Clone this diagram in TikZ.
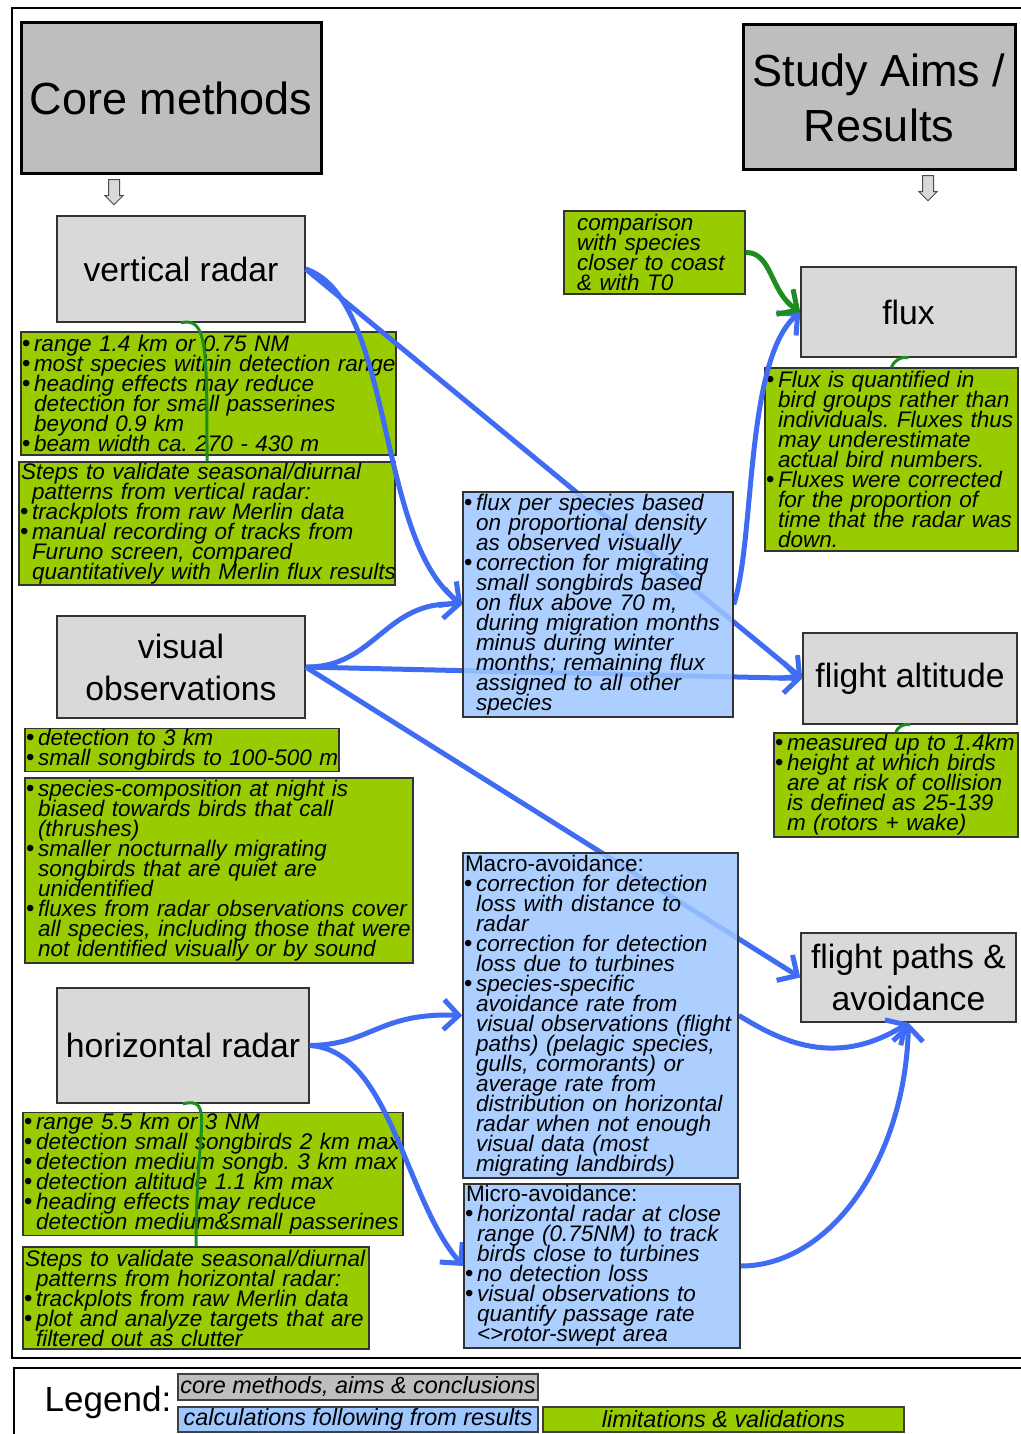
\documentclass[tikz,border=0pt]{standalone}
\usepackage{fontspec}
\setmainfont{Liberation Sans}
\usepackage{tikz}
\usetikzlibrary{shapes,arrows.meta}
\usepackage{xcolor}
\frenchspacing

\definecolor{headgray}{HTML}{BEBEBE}
\definecolor{methodgray}{HTML}{D9D9D9}
\definecolor{limgreen}{HTML}{99CC00}
\definecolor{calcblue}{HTML}{9EC7FF}
\definecolor{linkblue}{HTML}{3F6CF2}
\definecolor{notegreen}{HTML}{1E8C1E}

\pgfdeclarelayer{back}
\pgfdeclarelayer{front}
\pgfsetlayers{back,main,front}

\newcommand{\boxfont}{\fontsize{22.5}{20}\selectfont\itshape\lineskiplimit=-40pt\relax}
\newcommand{\bul}[1]{\makebox[11pt][l]{\upshape\fontsize{24}{24}\selectfont\hspace*{-1pt}\textbullet}\mbox{#1}}
\newcommand{\ind}[1]{\hspace*{11pt}\mbox{#1}}
\newcommand{\nob}[1]{\mbox{#1}}

\begin{document}
\begin{tikzpicture}[x=1pt,y=-1pt,
					headbox/.style={draw, line width=3pt, fill=headgray, font=\fontsize{45}{55}\selectfont, align=center},
					methodbox/.style={draw=black!80, line width=1.5pt, fill=methodgray, font=\fontsize{33.7}{42}\selectfont, align=center},
					limbox/.style={draw=black!80, line width=1.5pt, fill=limgreen, align=left, inner xsep=2pt, inner ysep=1pt, font=\boxfont},
					calcbox/.style={limbox, fill=calcblue, fill opacity=0.85, text opacity=1},
					legendbox/.style={draw=black!75, line width=1.2pt, inner sep=1pt, minimum width=360pt, font=\fontsize{23.4}{26}\selectfont\itshape},
					downarrow/.style={draw=black!70, fill=methodgray, line width=1pt, single arrow, shape border rotate=270, minimum height=25pt, minimum width=17pt, single arrow head extend=3.5pt, inner sep=5pt},
					link/.style={draw=linkblue, line width=5pt, -{Straight Barb[length=15pt,width=30pt]}},
					note/.style={draw=notegreen, line width=3pt},
					panel/.style={draw, line width=1.5pt}]
    \useasboundingbox (0,0) rectangle (1020,1434);
    \fill[white] (0,0) rectangle (1020,1434);
    \draw[panel] (12,8) rectangle (1030,1358);
    \draw[panel, line width=2pt] (14,1368) rectangle (1030,1440);

    % Place nodes
    \node [headbox, minimum width=300pt, minimum height=151pt] (core) at (171,98.5) {Core methods};
    \node [headbox, minimum width=272pt, minimum height=145pt] (aims) at (879,97.5) {Study Aims /\\Results};
    \node [downarrow] (coredown) at (114,189.5) {};
    \node [downarrow] (aimsdown) at (928,185.5) {};

    \node [methodbox, minimum width=248pt, minimum height=106pt] (vr) at (181,269) {vertical radar};
    \node [methodbox, minimum width=248pt, minimum height=102pt] (vis) at (181,667) {visual\\observations};
    \node [methodbox, minimum width=252pt, minimum height=115pt] (hr) at (183,1045.5) {horizontal radar};
    \node [methodbox, minimum width=215pt, minimum height=90pt] (flux) at (908.5,312) {flux};
    \node [methodbox, minimum width=214pt, minimum height=91pt] (alt) at (910,678.5) {flight altitude};
    \node [methodbox, minimum width=215pt, minimum height=89pt] (paths) at (908.5,977.5) {flight paths \&\\avoidance};

    \node [limbox, text width=371pt, minimum height=123pt] (vrlim) at (208.5,393.5){
    	\bul{range 1.4 km or 0.75 NM}\\
    	\bul{most species within detection range}\\
    	\bul{heading effects may reduce}\\
    	\ind{detection for small passerines}\\
    	\ind{beyond 0.9 km}\\
    	\bul{beam width ca. 270 - 430 m}
    };
    \node [limbox, text width=372pt, minimum height=123pt] (vrval) at (207,523.5){
    	\nob{Steps to validate seasonal/diurnal}\\
    	\ind{patterns from vertical radar:}\\
    	\bul{trackplots from raw Merlin data}\\
    	\bul{manual recording of tracks from}\\
    	\ind{Furuno screen, compared}\\
    	\ind{quantitatively with Merlin flux results}
    };
    \node [limbox, text width=310pt, minimum height=42pt] (vislim) at (182,750){
    	\bul{detection to 3 km}\\
    	\bul{small songbirds to 100-500 m}
    };
    \node [limbox, text width=384pt, minimum height=185pt] (visval) at (219,870.5){
    	\bul{species-composition at night is}\\
    	\ind{biased towards birds that call}\\
    	\ind{(thrushes)}\\
    	\bul{smaller nocturnally migrating}\\
    	\ind{songbirds that are quiet are}\\
    	\ind{unidentified}\\
    	\bul{fluxes from radar observations cover}\\
    	\ind{all species, including those that were}\\
    	\ind{not identified visually or by sound}
    };
    \node [limbox, text width=376pt, minimum height=122pt] (hrlim) at (213,1174){
    	\bul{range 5.5 km or 3 NM}\\
    	\bul{detection small songbirds 2 km max}\\
    	\bul{detection medium songb. 3 km max}\\
    	\bul{detection altitude 1.1 km max}\\
    	\bul{heading effects may reduce}\\
    	\ind{detection medium\&small passerines}
    };
    \node [limbox, text width=342pt, minimum height=102pt] (hrval) at (196,1298){
    	\nob{Steps to validate seasonal/diurnal}\\
    	\ind{patterns from horizontal radar:}\\
    	\bul{trackplots from raw Merlin data}\\
    	\bul{plot and analyze targets that are}\\
    	\ind{filtered out as clutter}
    };
    \node [limbox, text width=177pt, minimum height=83pt] (cmp) at (654.5,252.5){
    	\ind{comparison}\\
    	\ind{with species}\\
    	\ind{closer to coast}\\
    	\ind{\& with T0}
    };
    \node [limbox, text width=249pt, minimum height=183pt] (fluxlim) at (891.5,459.5){
    	\bul{Flux is quantified in}\\
    	\ind{bird groups rather than}\\
    	\ind{individuals. Fluxes thus}\\
    	\ind{may underestimate}\\
    	\ind{actual bird numbers.}\\
    	\bul{Fluxes were corrected}\\
    	\ind{for the proportion of}\\
    	\ind{time that the radar was}\\
    	\ind{down.}
    };
    \node [limbox, text width=240pt, minimum height=104pt] (altlim) at (896,785){
    	\bul{measured up to 1.4km}\\
    	\bul{height at which birds}\\
    	\ind{are at risk of collision}\\
    	\ind{is defined as 25-139}\\
    	\ind{m (rotors + wake)}
    };

    \begin{pgfonlayer}{front}
    \node [calcbox, text width=266pt, minimum height=225pt] (spec) at (598,604.5){
    	\bul{flux per species based}\\
    	\ind{on proportional density}\\
    	\ind{as observed visually}\\
    	\bul{correction for migrating}\\
    	\ind{small songbirds based}\\
    	\ind{on flux above 70 m,}\\
    	\ind{during migration months}\\
    	\ind{minus during winter}\\
    	\ind{months; remaining flux}\\
    	\ind{assigned to all other}\\
    	\ind{species}
    };
    \node [calcbox, text width=271pt, minimum height=325pt] (macro) at (600.5,1015.5){
    	\nob{\upshape Macro-avoidance:}\\
    	\bul{correction for detection}\\
    	\ind{loss with distance to}\\
    	\ind{radar}\\
    	\bul{correction for detection}\\
    	\ind{loss due to turbines}\\
    	\bul{species-specific}\\
    	\ind{avoidance rate from}\\
    	\ind{visual observations (flight}\\
    	\ind{paths) (pelagic species,}\\
    	\ind{gulls, cormorants) or}\\
    	\ind{average rate from}\\
    	\ind{distribution on horizontal}\\
    	\ind{radar when not enough}\\
    	\ind{visual data (most}\\
    	\ind{migrating landbirds)}
    };
    \node [calcbox, text width=272pt, minimum height=164pt] (micro) at (602,1266){
    	\nob{\upshape Micro-avoidance:}\\
    	\bul{horizontal radar at close}\\
    	\ind{range (0.75NM) to track}\\
    	\ind{birds close to turbines}\\
    	\bul{no detection loss}\\
    	\bul{visual observations to}\\
    	\ind{quantify passage rate}\\
    	\ind{<>rotor-swept area}
    };
    \end{pgfonlayer}

    \node [font=\fontsize{35}{40}\selectfont] (legend) at (108,1402) {Legend:};
    \node [legendbox, fill=headgray, minimum height=26pt] (keycore) at (358,1387) {core methods, aims \& conclusions};
    \node [legendbox, fill=calcblue, minimum height=25pt] (keycalc) at (358,1419.5) {calculations following from results};
    \node [legendbox, fill=limgreen, minimum width=361pt, minimum height=25pt] (keylim) at (723.5,1419.5) {limitations \& validations};

    % Draw edges
    \draw[note] (vr.south) .. controls (207,317) and (207,345) .. (vrval.north);
    \begin{pgfonlayer}{back}
    \draw[note] (vis.south) -- (visval.north);
    \end{pgfonlayer}
    \draw[note] (hr.south) .. controls (215,1097) and (196,1125) .. (hrval.north);
    \draw[note] (flux.south) .. controls (900,356) and (893,362) .. (fluxlim.north);
    \draw[note] (alt.south) .. controls (903,723) and (897,728) .. (altlim.north);

    \draw[link] (vr.east) .. controls (395,300) and (375,540) .. (spec.west);
    \draw[link] (vr.east) -- (alt.west);
    \draw[link] (vis.east) .. controls (375,668) and (385,600) .. (spec.west);
    \draw[link] (vis.east) -- (alt.west);
    \draw[link] (vis.east) -- (paths.west);
    \draw[link] (spec.east) .. controls (755,540) and (745,360) .. (flux.west);
    \draw[link, draw=notegreen] (cmp.east) .. controls (772,252) and (770,292) .. (flux.west);
    \draw[link] (hr.east) .. controls (370,1045) and (380,1012) .. (macro.west);
    \draw[link] (hr.east) .. controls (390,1050) and (405,1200) .. (micro.west);
    \draw[link] (macro.east) .. controls (772,1035) and (830,1072) .. (paths.south);
    \draw[link] (micro.east) .. controls (830,1266) and (905,1160) .. (paths.south);

\end{tikzpicture}
\end{document}
